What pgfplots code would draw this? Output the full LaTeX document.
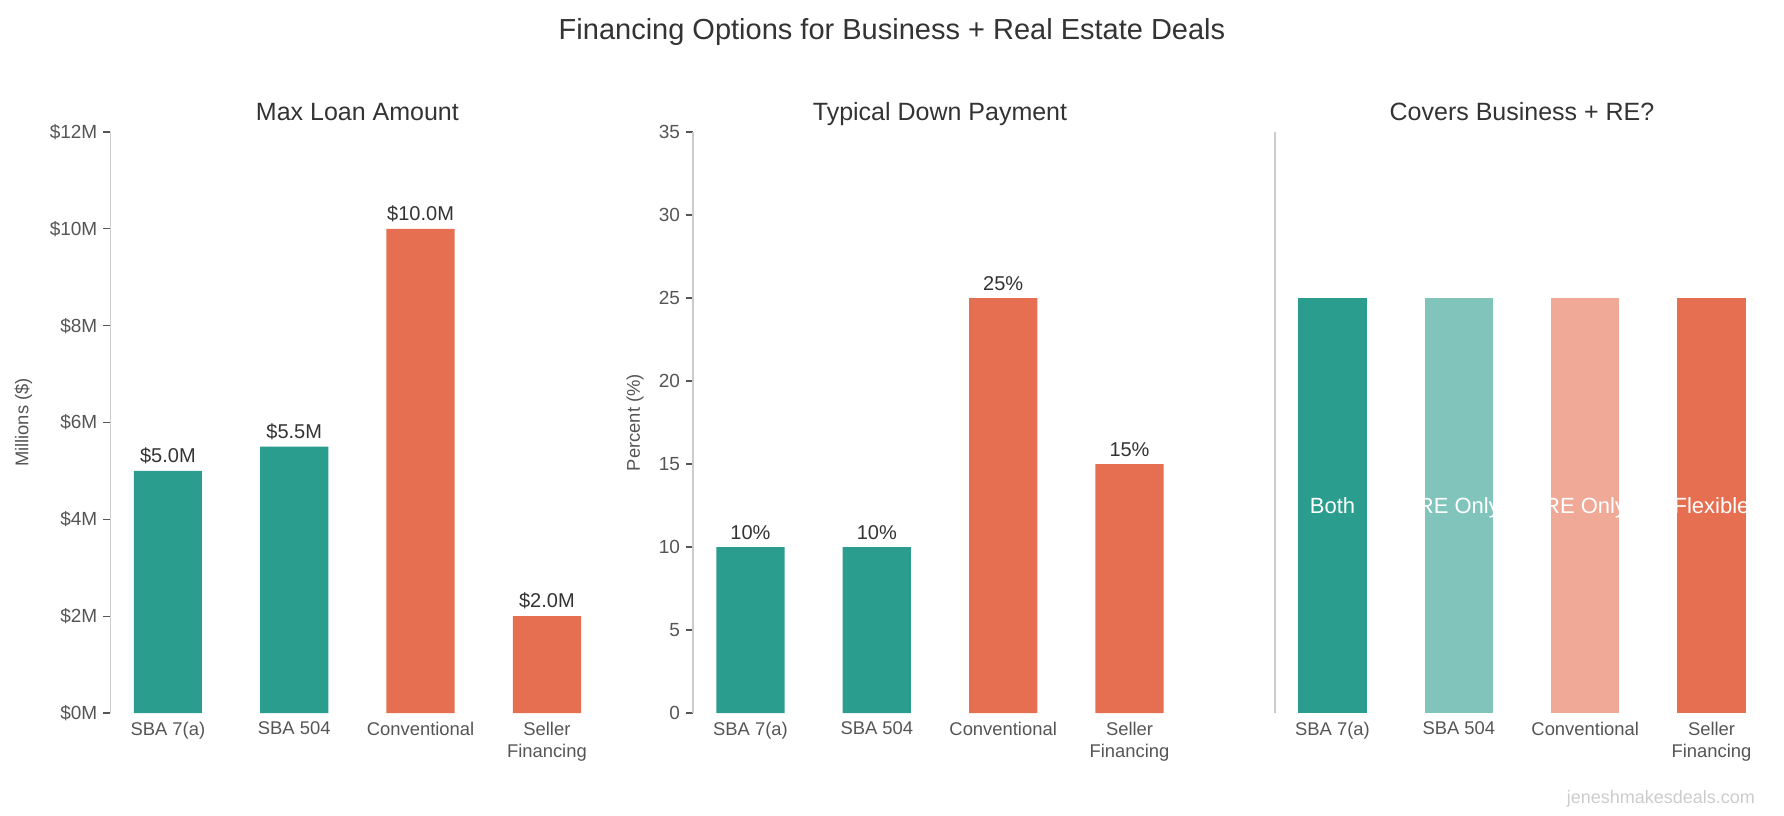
\documentclass[border=0pt]{standalone}
\usepackage{fontspec}
\setmainfont{Liberation Sans}
\usepackage{pgfplots}
\pgfplotsset{compat=1.18}

\definecolor{cteal}{HTML}{2A9D8F}
\definecolor{corange}{HTML}{E76F51}
\definecolor{clteal}{HTML}{80C4BB}
\definecolor{clorange}{HTML}{F0A996}
\definecolor{axgray}{HTML}{CCCCCC}
\definecolor{labgray}{HTML}{555555}
\definecolor{txt}{HTML}{333333}

\pgfplotsset{
  finpanel/.style={
    scale only axis, width=247pt, height=290.5pt,
    anchor=south west, clip=false,
    xmin=-0.455, xmax=3.455, ymin=0,
    axis x line*=bottom, axis y line*=left,
    axis line style={-},
    x axis line style={draw=none},
    y axis line style={draw=axgray, line width=0.8pt},
    xtick={0,1,2,3},
    xticklabels={SBA 7(a), SBA 504, Conventional, Seller\\Financing},
    xticklabel style={align=center, font=\fontsize{9.2}{11}\selectfont, text=labgray, yshift=2.5pt},
    x tick style={draw=none},
    tick align=outside, major tick length=3.5pt,
    y tick style={draw=labgray, line width=0.6pt},
    yticklabel style={font=\fontsize{9.5}{11}\selectfont, text=labgray, xshift=0.5pt},
    every axis title/.style={font=\fontsize{12.5}{15}\selectfont, text=txt,
      at={(axis description cs:0.5,1)}, anchor=base, yshift=5.75pt},
    /pgf/number format/assume math mode=true,
  },
  ylab/.style={every axis y label/.style={at={(axis description cs:0,0.5)},
      rotate=90, anchor=center, yshift=#1,
      font=\fontsize{9.2}{11}\selectfont, text=labgray}},
  finbar/.style={ybar, bar shift=0pt, bar width=0.54, draw=none, fill=#1,
    nodes near coords, point meta=explicit symbolic,
    every node near coord/.append style={font=\fontsize{10}{12}\selectfont, text=txt}},
}

\begin{document}
\begin{tikzpicture}
\path[use as bounding box] (0,0) rectangle (892pt,407.5pt);

\node[font=\fontsize{14.5}{17}\selectfont, text=txt, anchor=base] at (446pt,387.5pt)
  {Financing Options for Business + Real Estate Deals};
\node[font=\fontsize{9}{11}\selectfont, text=axgray, anchor=east] at (881pt,8pt)
  {jeneshmakesdeals.com};

% Max loan amount
\begin{axis}[finpanel, at={(55.2pt,51pt)},
    title={Max Loan Amount},
    ymax=12, ytick={0,2,4,6,8,10,12},
    yticklabels={\$0M,\$2M,\$4M,\$6M,\$8M,\$10M,\$12M},
    ylabel={Millions (\$)}, ylab=43.5pt,
  ]
  \addplot[finbar=cteal] coordinates {(0,5.0)[\$5.0M] (1,5.5)[\$5.5M]};
  \addplot[finbar=corange] coordinates {(2,10.0)[\$10.0M] (3,2.0)[\$2.0M]};
\end{axis}

% Typical down payment
\begin{axis}[finpanel, at={(346.5pt,51pt)},
    title={Typical Down Payment},
    ymax=35, ytick={0,5,10,15,20,25,30,35},
    ylabel={Percent (\%)}, ylab=29pt,
  ]
  \addplot[finbar=cteal] coordinates {(0,10)[10\%] (1,10)[10\%]};
  \addplot[finbar=corange] coordinates {(2,25)[25\%] (3,15)[15\%]};
\end{axis}

% Covers business + RE
\begin{axis}[finpanel, at={(637.5pt,51pt)},
    title={Covers Business + RE?},
    ymax=35, ytick=\empty,
  ]
  \addplot[ybar, bar shift=0pt, bar width=0.54, draw=none, fill=cteal] coordinates {(0,25)};
  \addplot[ybar, bar shift=0pt, bar width=0.54, draw=none, fill=clteal] coordinates {(1,25)};
  \addplot[ybar, bar shift=0pt, bar width=0.54, draw=none, fill=clorange] coordinates {(2,25)};
  \addplot[ybar, bar shift=0pt, bar width=0.54, draw=none, fill=corange] coordinates {(3,25)};
  \addplot[draw=none, mark=none, nodes near coords, point meta=explicit symbolic,
    every node near coord/.append style={anchor=base, yshift=-4pt, font=\fontsize{11}{13}\selectfont, text=white}]
    coordinates {(0,12.5)[Both] (1,12.5)[RE Only] (2,12.5)[RE Only] (3,12.5)[Flexible]};
\end{axis}
\end{tikzpicture}
\end{document}
